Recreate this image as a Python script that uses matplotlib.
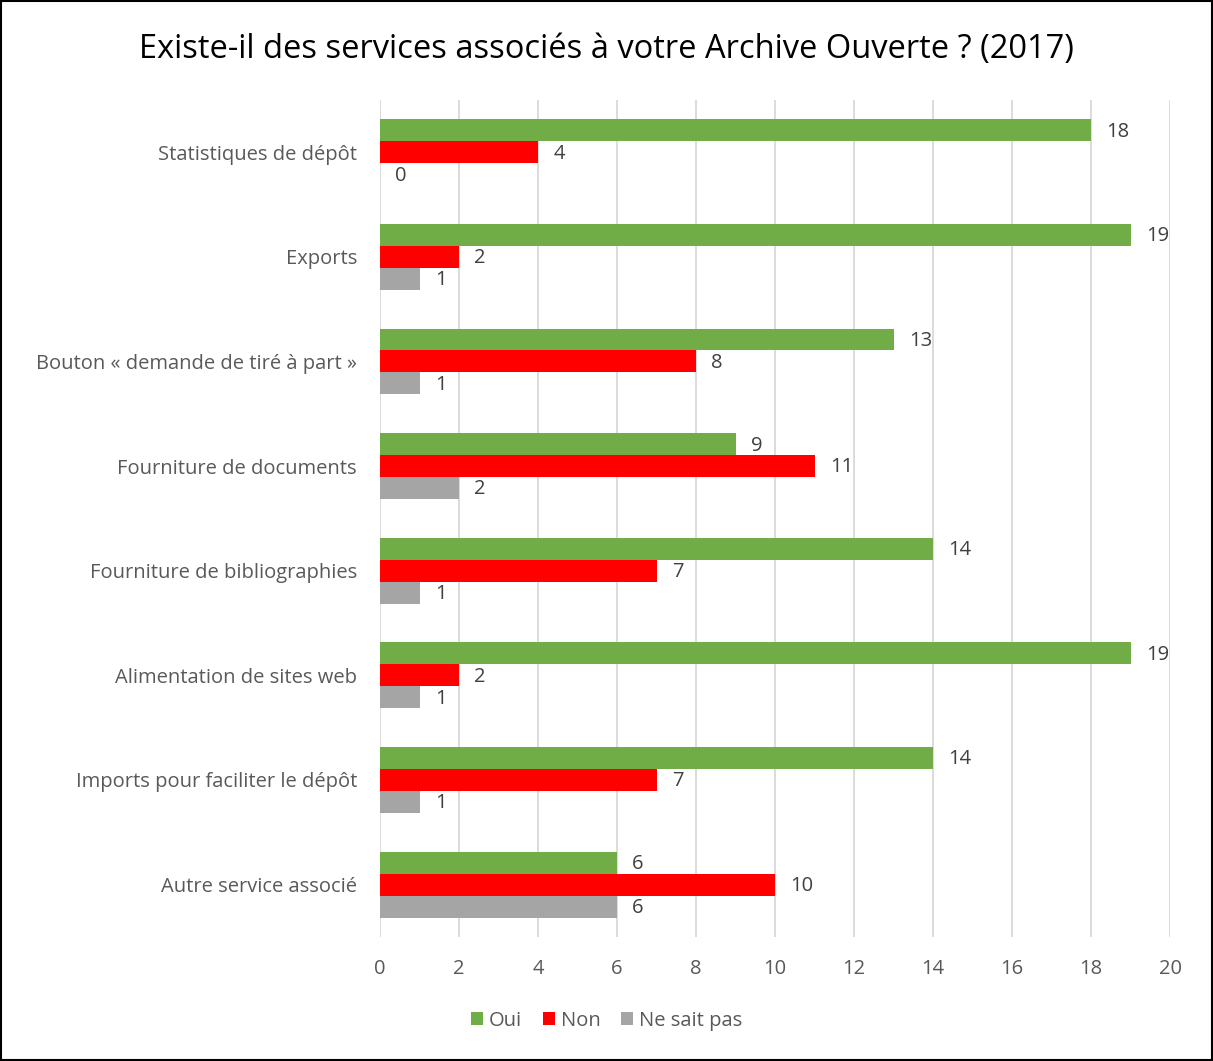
import numpy as np
import matplotlib.pyplot as plt
from matplotlib.patches import Rectangle

# Data
categories = ['Statistiques de dépôt', 'Exports', 'Bouton « demande de tiré à part »',
              'Fourniture de documents', 'Fourniture de bibliographies',
              'Alimentation de sites web', 'Imports pour faciliter le dépôt',
              'Autre service associé']
oui = [18, 19, 13, 9, 14, 19, 14, 6]
non = [4, 2, 8, 11, 7, 2, 7, 10]
nsp = [0, 1, 1, 2, 1, 1, 1, 6]
series_names = ['Oui', 'Non', 'Ne sait pas']
colors = ['#70AD47', '#FF0000', '#A5A5A5']

txt = '#595959'
plt.rcParams['font.family'] = ['Open Sans', 'DejaVu Sans']

fig = plt.figure(figsize=(12.13, 10.61), dpi=100)
ax = fig.add_axes([0.3133, 0.1170, 0.6513, 0.7888])

y = np.arange(len(categories))
h = 0.21
for vals, off, col, name in zip([oui, non, nsp], [-h, 0, h], colors, series_names):
    bars = ax.barh(y + off, vals, height=h, color=col, label=name, zorder=3)
    for b, v in zip(bars, vals):
        ax.annotate(str(v), (b.get_width(), b.get_y() + b.get_height() / 2),
                    xytext=(11, -1), textcoords='offset points',
                    ha='left', va='center', fontsize=14.5, color='#404040')

ax.set_ylim(len(categories) - 0.5, -0.5)
ax.set_xlim(0, 20)
ax.set_xticks(range(0, 21, 2))
ax.set_yticks(y)
ax.set_yticklabels(categories)
ax.tick_params(axis='both', length=0, labelsize=14.5, colors=txt)
ax.tick_params(axis='y', pad=16.5)
ax.tick_params(axis='x', pad=16)
ax.xaxis.grid(True, color='#D9D9D9', linewidth=1.3, zorder=0)
for s in ax.spines.values():
    s.set_visible(False)

fig.suptitle('Existe-il des services associés à votre Archive Ouverte ? (2017)',
             x=0.5, y=0.969, fontsize=23.5, color='black')

fig.legend(loc='center', bbox_to_anchor=(0.5, 0.038), ncol=3, frameon=False,
           fontsize=14.5, labelcolor=txt, handlelength=0.6, handleheight=0.6,
           handletextpad=0.3, columnspacing=1.0)

fig.patches.append(Rectangle((0.001, 0.001), 0.998, 0.998, transform=fig.transFigure,
                             fill=False, edgecolor='black', linewidth=1.5))

fig.savefig('out.png', dpi=100)
